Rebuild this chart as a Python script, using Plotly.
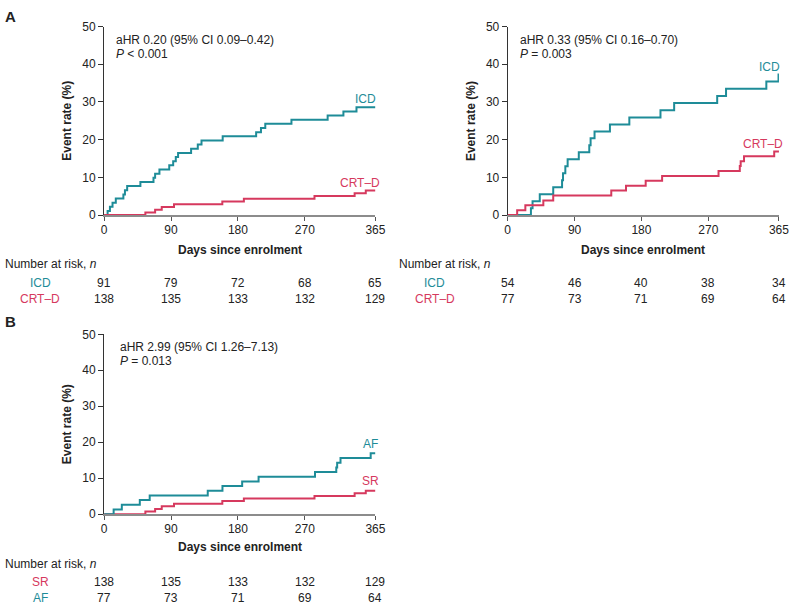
import plotly.graph_objects as go

# ---------------- data ----------------
# Panel A (left): ICD vs CRT-D
icd_left_days = [0, 4.7, 7.8, 11.3, 15.7, 25.9, 28, 31, 48.8, 66.4, 68.6, 74.4, 87.6, 92.9,
                 96.4, 99.5, 117, 126, 131, 159.5, 204.5, 211, 216.8, 252, 300.7, 321.9, 339.5, 365]
icd_left_rate = [0, 1.1, 2.2, 3.3, 4.4, 5.5, 6.6, 7.7, 8.8, 9.9, 11.0, 12.1, 13.2, 14.3,
                 15.4, 16.5, 17.6, 18.7, 19.8, 20.9, 22.0, 23.1, 24.2, 25.3, 26.4, 27.5, 28.6, 28.6]
crt_left_days = [0, 55.5, 68.6, 77.5, 94, 159, 188, 283, 337, 352, 365]
crt_left_rate = [0, 0.72, 1.45, 2.17, 2.9, 3.62, 4.35, 5.07, 5.8, 6.52, 6.52]

# Panel A (right): ICD vs CRT-D
icd_right_days = [0, 31.3, 33.5, 43.2, 61.3, 73.2, 74.5, 77.6, 80.7, 95.7, 109.8, 111.6, 116.9,
                  137.6, 163.7, 205.6, 224, 281.9, 293.8, 348, 364.4, 365]
icd_right_rate = [0, 1.85, 3.7, 5.55, 7.4, 9.25, 11.1, 12.95, 14.8, 16.65, 18.5, 20.35, 22.2,
                  24.05, 25.9, 27.8, 29.7, 31.6, 33.5, 35.4, 37.3, 37.3]
crt_right_days = [0, 12.8, 23.8, 48, 61.3, 139.4, 159.2, 185.7, 207.8, 283.7, 312.3, 313.5, 318, 358.6, 365]
crt_right_rate = [0, 1.3, 2.6, 3.9, 5.2, 6.5, 7.8, 9.1, 10.4, 11.7, 13.0, 14.3, 15.6, 16.9, 16.9]

# Panel B: SR vs AF
sr_days = [0, 55.5, 68.6, 77.5, 94, 159, 188, 283, 337, 352, 365]
sr_rate = [0, 0.72, 1.45, 2.17, 2.9, 3.62, 4.35, 5.07, 5.8, 6.52, 6.52]
af_days = [0, 12.8, 23.8, 48, 61.3, 139.4, 159.2, 185.7, 207.8, 283.7, 312.3, 313.5, 318, 358.6, 365]
af_rate = [0, 1.3, 2.6, 3.9, 5.2, 6.5, 7.8, 9.1, 10.4, 11.7, 13.0, 14.3, 15.6, 16.9, 16.9]

x_ticks = [0, 90, 180, 270, 365]
y_ticks = [0, 10, 20, 30, 40, 50]

risk_left_icd = [91, 79, 72, 68, 65]
risk_left_crt = [138, 135, 133, 132, 129]
risk_right_icd = [54, 46, 40, 38, 34]
risk_right_crt = [77, 73, 71, 69, 64]
risk_sr = [138, 135, 133, 132, 129]
risk_af = [77, 73, 71, 69, 64]

stats_left = ["aHR 0.20 (95% CI 0.09–0.42)", "<i>P</i> &lt; 0.001"]
stats_right = ["aHR 0.33 (95% CI 0.16–0.70)", "<i>P</i> = 0.003"]
stats_b = ["aHR 2.99 (95% CI 1.26–7.13)", "<i>P</i> = 0.013"]

# ---------------- style ----------------
W, H = 799, 612
TEAL = "#1e8c98"
RED = "#d6395e"
FONT = "Liberation Sans, Arial, sans-serif"
TXT = "#222222"


def xp(px):
    return px / W


def yp(py):
    return 1 - py / H


fig = go.Figure()

# axes: (xaxis name, yaxis name, x domain px, y domain px)
panels = {
    "A1": ("x", "y", (102.8, 378.6), (20, 213)),
    "A2": ("x2", "y2", (513, 788.8), (20, 213)),
    "B": ("x3", "y3", (102.8, 378.6), (335, 519)),
}

series = [
    ("A1", icd_left_days, icd_left_rate, TEAL),
    ("A1", crt_left_days, crt_left_rate, RED),
    ("A2", icd_right_days, icd_right_rate, TEAL),
    ("A2", crt_right_days, crt_right_rate, RED),
    ("B", sr_days, sr_rate, RED),
    ("B", af_days, af_rate, TEAL),
]
for key, d, r, c in series:
    xa, ya, _, _ = panels[key]
    fig.add_trace(go.Scatter(x=d, y=r, mode="lines", line=dict(color=c, width=2, shape="hv"),
                             xaxis=xa, yaxis=ya, showlegend=False, hoverinfo="skip"))

layout_axes = {}
for key, (xa, ya, (x0, x1), (y0, y1)) in panels.items():
    xkey = "xaxis" if xa == "x" else "xaxis" + xa[1:]
    ykey = "yaxis" if ya == "y" else "yaxis" + ya[1:]
    layout_axes[xkey] = dict(domain=[xp(x0), xp(x1)], range=[0, 365], anchor=ya,
                             tickvals=x_ticks, ticktext=[str(v) for v in x_ticks],
                             showline=True, linecolor="#8c8c8c", linewidth=2,
                             ticks="outside", ticklen=4, tickcolor="#555555", tickwidth=1,
                             ticklabelstandoff=-2,
                             showgrid=False, zeroline=False,
                             tickfont=dict(family=FONT, size=12, color=TXT))
    layout_axes[ykey] = dict(domain=[yp(y1), yp(y0)], range=[0, 50], anchor=xa,
                             tickvals=y_ticks, showline=True, linecolor="#333333", linewidth=1,
                             ticks="outside", ticklen=5, tickcolor="#333333", tickwidth=1,
                             showgrid=False, zeroline=False,
                             tickfont=dict(family=FONT, size=12, color=TXT))

ann = []


def text(x, y, s, size=12, color=TXT, xanchor="left", bold=False, angle=0):
    if bold:
        s = "<b>" + s + "</b>"
    ann.append(dict(x=xp(x), y=yp(y), xref="paper", yref="paper", text=s, showarrow=False,
                    xanchor=xanchor, yanchor="middle", textangle=angle,
                    font=dict(family=FONT, size=size, color=color)))


# panel letters
text(0, 10, "A", size=15, bold=True)
text(0, 322, "B", size=15, bold=True)

# stats text
for (sx, sy), st in [((113, 34), stats_left), ((524, 34), stats_right), ((117, 348), stats_b)]:
    text(sx, sy, st[0])
    text(sx, sy + 14, st[1])

# curve labels
text(381, 94, "ICD", color=TEAL, xanchor="right")
text(385, 180, "CRT–D", color=RED, xanchor="right")
text(792, 61, "ICD", color=TEAL, xanchor="right")
text(795, 140, "CRT–D", color=RED, xanchor="right")
text(383, 447, "AF", color=TEAL, xanchor="right")
text(384, 485, "SR", color=RED, xanchor="right")

# axis titles
for cx, cy in [(65, 116.5), (476, 116.5), (65, 427)]:
    text(cx, cy, "Event rate (%)", bold=True, xanchor="center", angle=-90)
for cx, cy in [(240.7, 249), (651, 249), (240.7, 553)]:
    text(cx, cy, "Days since enrolment", bold=True, xanchor="center")

# number at risk tables
tables = [
    ("x", 0, 263, [("ICD", TEAL, risk_left_icd, 282), ("CRT–D", RED, risk_left_crt, 299)]),
    ("x2", 401, 263, [("ICD", TEAL, risk_right_icd, 282), ("CRT–D", RED, risk_right_crt, 299)]),
    ("x3", 0, 570, [("SR", RED, risk_sr, 588), ("AF", TEAL, risk_af, 605)]),
]
for xa, hx, hy, rows in tables:
    text(hx, hy, "Number at risk, <i>n</i>")
    for lab, col, vals, ry in rows:
        text(hx + 38, ry, lab, color=col, xanchor="center")
        for t, v in zip(x_ticks, vals):
            ann.append(dict(x=t, y=yp(ry), xref=xa, yref="paper", text=str(v), showarrow=False,
                            xanchor="center", yanchor="middle",
                            font=dict(family=FONT, size=12, color=TXT)))

fig.update_layout(width=W, height=H, margin=dict(l=0, r=0, t=0, b=0),
                  paper_bgcolor="white", plot_bgcolor="white", showlegend=False,
                  annotations=ann, **layout_axes)

fig.write_html(
    "out.html",
    config={"displayModeBar": False, "staticPlot": True},
    post_script="document.body.style.margin='0';document.body.style.padding='0';"
                "document.documentElement.style.overflow='hidden';",
)
